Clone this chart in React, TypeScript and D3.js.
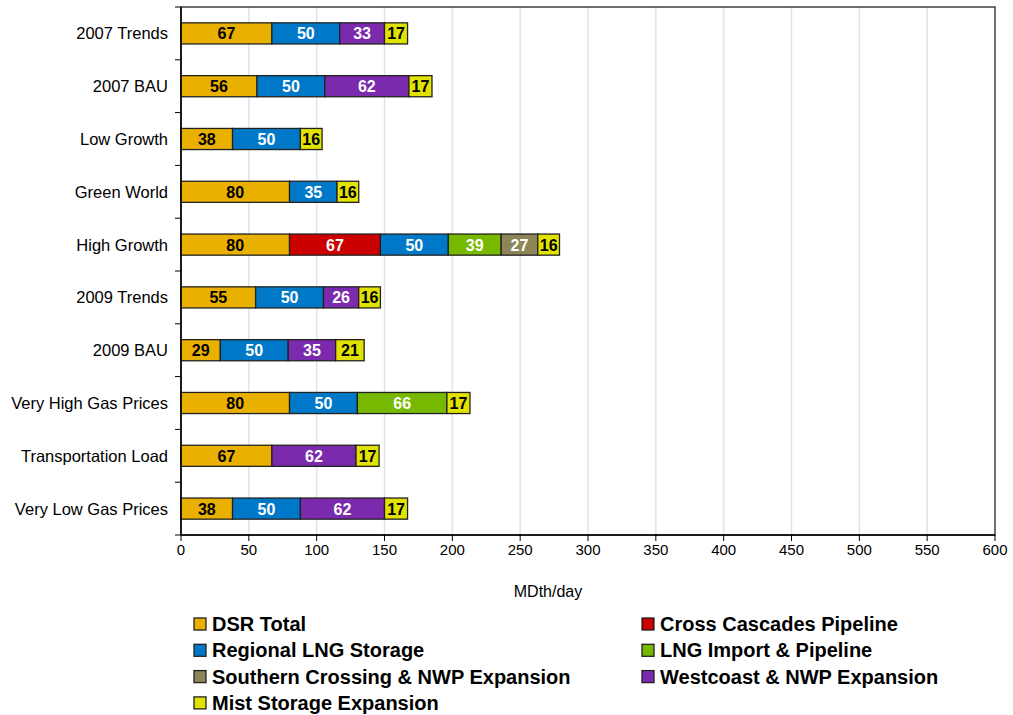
import React from "react";
import * as d3 from "d3";

const categories = [
  "2007 Trends",
  "2007 BAU",
  "Low Growth",
  "Green World",
  "High Growth",
  "2009 Trends",
  "2009 BAU",
  "Very High Gas Prices",
  "Transportation Load",
  "Very Low Gas Prices",
];

const seriesNames = [
  "DSR Total",
  "Cross Cascades Pipeline",
  "Regional LNG Storage",
  "LNG Import & Pipeline",
  "Southern Crossing & NWP Expansion",
  "Westcoast & NWP Expansion",
  "Mist Storage Expansion",
];

const dsrTotal = [67, 56, 38, 80, 80, 55, 29, 80, 67, 38];
const crossCascades = [0, 0, 0, 0, 67, 0, 0, 0, 0, 0];
const regionalLng = [50, 50, 50, 35, 50, 50, 50, 50, 0, 50];
const lngImport = [0, 0, 0, 0, 39, 0, 0, 66, 0, 0];
const southernCrossing = [0, 0, 0, 0, 27, 0, 0, 0, 0, 0];
const westcoast = [33, 62, 0, 0, 0, 26, 35, 0, 62, 62];
const mistStorage = [17, 17, 16, 16, 16, 16, 21, 17, 17, 17];

const seriesValues = [dsrTotal, crossCascades, regionalLng, lngImport, southernCrossing, westcoast, mistStorage];

const colors = ["#EAB000", "#CC0000", "#0078C8", "#76B900", "#8C8656", "#7B2AAE", "#E2E200"];
const labelColors = ["#000", "#fff", "#fff", "#fff", "#fff", "#fff", "#000"];

const xTicks = [0, 50, 100, 150, 200, 250, 300, 350, 400, 450, 500, 550, 600];

const W = 1013;
const H = 715;
const left = 181;
const right = 995;
const top = 7;
const bottom = 535;

export default function App() {
  const x = d3.scaleLinear().domain([0, 600]).range([left, right]);
  const y = d3.scaleBand().domain(categories).range([top, bottom]).paddingInner(0.6).paddingOuter(0.3);
  const band = (bottom - top) / categories.length;

  const rows = categories.map((c, i) => {
    let acc = 0;
    const segs: { s: number; x0: number; x1: number; v: number }[] = [];
    seriesValues.forEach((vals, s) => {
      const v = vals[i];
      if (v > 0) {
        segs.push({ s, x0: acc, x1: acc + v, v });
        acc += v;
      }
    });
    return { c, segs };
  });

  const font = "Arial, 'Liberation Sans', sans-serif";
  const legendItems = [
    [0, 0, 0], [1, 1, 0],
    [2, 0, 1], [3, 1, 1],
    [4, 0, 2], [5, 1, 2],
    [6, 0, 3],
  ];

  return (
    <svg width={W} height={H} style={{ position: "absolute", left: 0, top: 0 }} fontFamily={font}>
      <rect x={0} y={0} width={W} height={H} fill="#fff" />
      {/* gridlines */}
      {xTicks.slice(1, -1).map((t) => (
        <line key={t} x1={x(t)} x2={x(t)} y1={top} y2={bottom} stroke="#e3e3e3" strokeWidth={1.5} />
      ))}
      {/* plot border */}
      <rect x={left} y={top} width={right - left} height={bottom - top} fill="none" stroke="#222" strokeWidth={1.3} />
      {/* bars */}
      {rows.map((r) => (
        <g key={r.c}>
          {r.segs.map((sg) => (
            <g key={sg.s}>
              <rect
                x={x(sg.x0)}
                y={y(r.c)!}
                width={x(sg.x1) - x(sg.x0)}
                height={y.bandwidth()}
                fill={colors[sg.s]}
                stroke="#222"
                strokeWidth={1.3}
              />
              <text
                x={(x(sg.x0) + x(sg.x1)) / 2}
                y={y(r.c)! + y.bandwidth() / 2 + 6}
                textAnchor="middle"
                fontWeight="bold"
                fontSize={16}
                fill={labelColors[sg.s]}
              >
                {sg.v}
              </text>
            </g>
          ))}
        </g>
      ))}
      {/* y axis */}
      <line x1={left} x2={left} y1={top} y2={bottom} stroke="#000" strokeWidth={1.5} />
      {d3.range(categories.length + 1).map((i) => (
        <line key={i} x1={left - 6} x2={left} y1={top + i * band} y2={top + i * band} stroke="#000" strokeWidth={1} />
      ))}
      {categories.map((c) => (
        <text key={c} x={168} y={y(c)! + y.bandwidth() / 2 + 6} textAnchor="end" fontSize={16.5} fill="#000">
          {c}
        </text>
      ))}
      {/* x axis */}
      <line x1={left} x2={right} y1={bottom} y2={bottom} stroke="#000" strokeWidth={1.5} />
      {xTicks.map((t) => (
        <g key={t}>
          <line x1={x(t)} x2={x(t)} y1={bottom} y2={bottom + 6} stroke="#000" strokeWidth={1} />
          <text x={x(t)} y={bottom + 20} textAnchor="middle" fontSize={15} fill="#000">
            {t}
          </text>
        </g>
      ))}
      <text x={(left + right) / 2 - 40} y={597} textAnchor="middle" fontSize={16} fill="#000">
        MDth/day
      </text>
      {/* legend */}
      {legendItems.map(([s, col, row]) => {
        const lx = col === 0 ? 194 : 642;
        const ly = 624 + row * 26.3;
        return (
          <g key={s}>
            <rect x={lx} y={ly - 6} width={12} height={12} fill={colors[s]} stroke="#222" strokeWidth={1.3} />
            <text x={lx + 18} y={ly + 7} fontSize={20} fontWeight="bold" fill="#000">
              {seriesNames[s]}
            </text>
          </g>
        );
      })}
    </svg>
  );
}
